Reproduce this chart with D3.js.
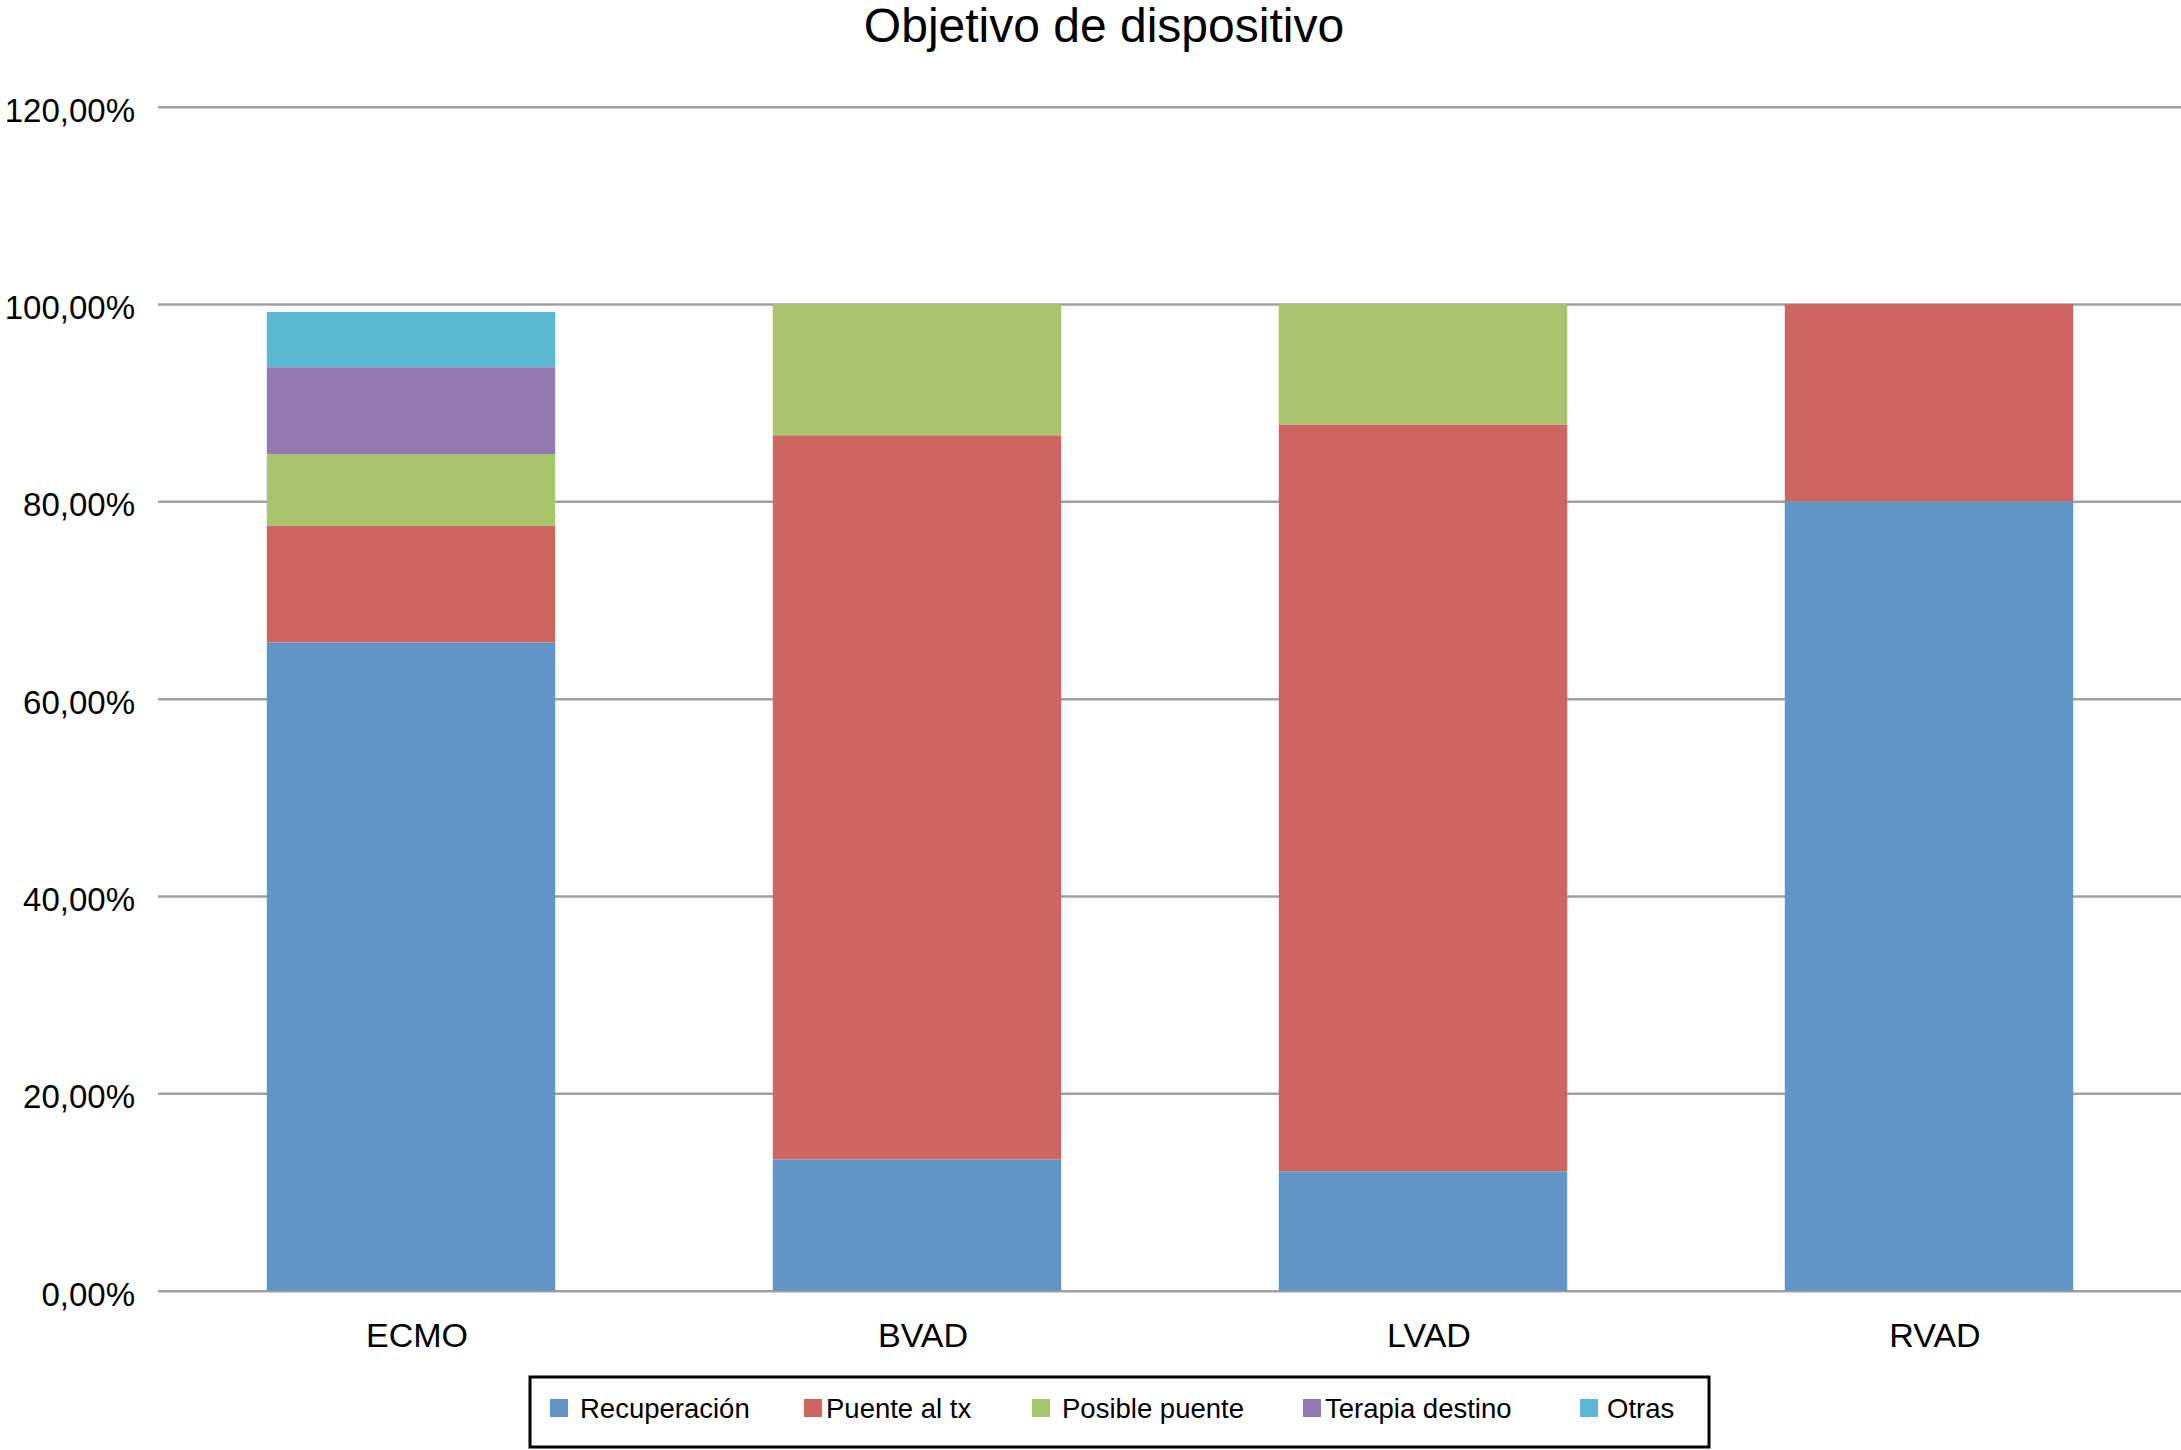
<!DOCTYPE html>
<html>
<head>
<meta charset="utf-8">
<script src="https://cdn.jsdelivr.net/npm/d3@7"></script>
<style>
  body { margin: 0; background: #fff; }
  text { font-family: "Liberation Sans", Arial, sans-serif; }
</style>
</head>
<body>
<div class="canvas"></div>
<script>
// data (percent)
const categories = ['ECMO', 'BVAD', 'LVAD', 'RVAD'];
const seriesNames = ['Recuperación', 'Puente al tx', 'Posible puente', 'Terapia destino', 'Otras'];
const recuperacion = [65.7, 13.3, 12.1, 80.0];
const puenteTx = [11.8, 73.4, 75.7, 20.0];
const posiblePuente = [7.3, 13.3, 12.2, 0];
const terapiaDestino = [8.8, 0, 0, 0];
const otras = [5.6, 0, 0, 0];
const yTicks = [0, 20, 40, 60, 80, 100, 120];
const colors = ['#6195c8', '#cd6660', '#aac46e', '#937ab0', '#5bb8d1'];

const seriesValues = [recuperacion, puenteTx, posiblePuente, terapiaDestino, otras];

// table for d3.stack
const rows = categories.map((c, i) => {
    const r = { cat: c };
    seriesNames.forEach((s, j) => r[s] = seriesValues[j][i]);
    return r;
});

const W = 2181, H = 1450;
const plotLeft = 158, plotRight = 2182, plotTop = 106.7, plotBottom = 1290.7;

const svg = d3.select('.canvas').append('svg')
    .attr('width', W)
    .attr('height', H);

const x = d3.scaleBand()
    .domain(categories)
    .range([plotLeft, plotRight])
    .paddingInner(0.43)
    .paddingOuter(0.215);

const y = d3.scaleLinear()
    .domain([0, 120])
    .range([plotBottom, plotTop]);

const fmt = v => d3.format('.2f')(v).replace('.', ',') + '%';

// gridlines + y labels
const yAxis = svg.append('g')
    .attr('transform', `translate(${plotLeft},0)`)
    .call(d3.axisLeft(y).tickValues(yTicks).tickFormat(fmt)
        .tickSize(-(W - plotLeft)).tickPadding(23));

yAxis.select('.domain').remove();
yAxis.selectAll('line')
    .attr('stroke', '#a0a0a0')
    .attr('stroke-width', 2.5);
yAxis.selectAll('text')
    .attr('dy', null)
    .attr('y', 14.5)
    .attr('fill', '#000')
    .style('font-size', '33px');

// stacked bars
const stacked = d3.stack().keys(seriesNames)(rows);

svg.append('g')
    .selectAll('g')
    .data(stacked)
    .join('g')
    .attr('fill', (d, i) => colors[i])
    .selectAll('rect')
    .data(d => d.filter(p => p[1] - p[0] > 0))
    .join('rect')
    .attr('x', d => x(d.data.cat))
    .attr('width', x.bandwidth())
    .attr('y', d => y(d[1]))
    .attr('height', d => y(d[0]) - y(d[1]));

// category labels
svg.append('g')
    .selectAll('text')
    .data(categories)
    .join('text')
    .attr('x', d => x(d) + x.bandwidth() / 2 + 6)
    .attr('y', 1347)
    .attr('text-anchor', 'middle')
    .style('font-size', '34px')
    .text(d => d);

// title
svg.append('text')
    .attr('x', 1104)
    .attr('y', 42)
    .attr('text-anchor', 'middle')
    .style('font-size', '48px')
    .text('Objetivo de dispositivo');

// legend
const legend = svg.append('g');
legend.append('rect')
    .attr('x', 530)
    .attr('y', 1377)
    .attr('width', 1179)
    .attr('height', 70)
    .attr('fill', 'none')
    .attr('stroke', '#000')
    .attr('stroke-width', 3);

const swatchX = [550, 804, 1032, 1303, 1580];
const labelX = [580, 826, 1062, 1325, 1607];

const item = legend.selectAll('g.item')
    .data(seriesNames)
    .join('g')
    .attr('class', 'item');

item.append('rect')
    .attr('x', (d, i) => swatchX[i])
    .attr('y', 1399)
    .attr('width', 18)
    .attr('height', 18)
    .attr('fill', (d, i) => colors[i]);

item.append('text')
    .attr('x', (d, i) => labelX[i])
    .attr('y', 1418)
    .style('font-size', '27.5px')
    .text(d => d);
</script>
</body>
</html>
